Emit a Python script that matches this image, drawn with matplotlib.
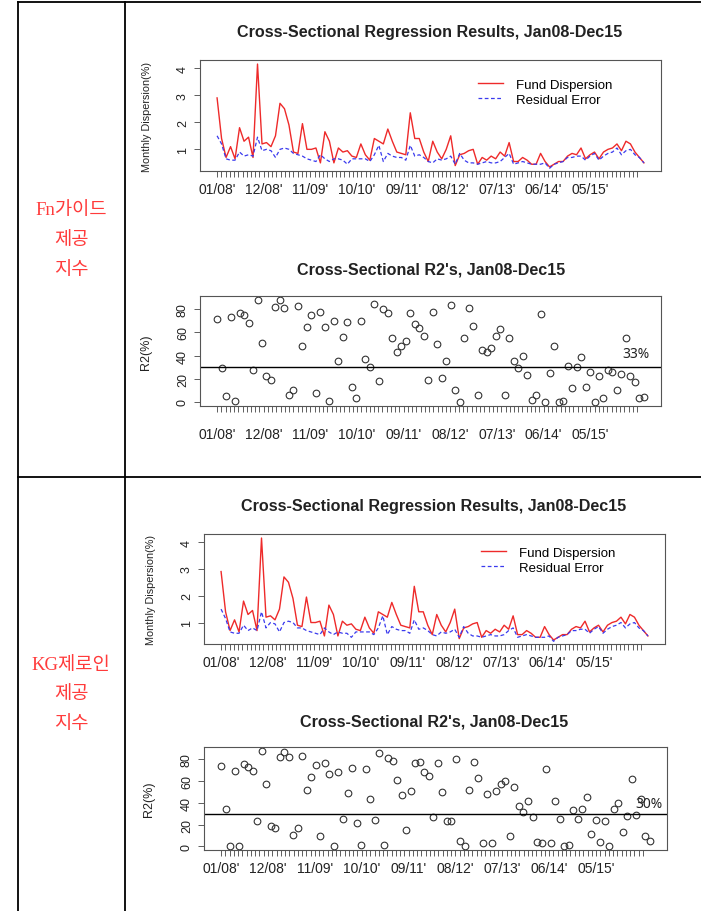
import numpy as np
import matplotlib
matplotlib.use('Agg')
import matplotlib.pyplot as plt
from matplotlib.lines import Line2D

plt.rcParams['font.family'] = ['Liberation Sans', 'DejaVu Sans']

W, H = 701, 912

########## Data ##########
# Fn guide index: fund dispersion / residual error (monthly, Jan08 - Dec15)
fn_disp = [2.9, 1.4, 0.7, 1.1, 0.65, 1.8, 1.3, 1.45, 0.7, 4.15,
           1.2, 1.25, 1.1, 1.5, 2.7, 2.5, 1.9, 0.9, 0.85, 1.95,
           1.0, 1.0, 1.05, 0.5, 1.65, 1.3, 0.5, 1.05, 0.9, 0.95,
           0.75, 0.7, 1.2, 0.8, 0.6, 1.4, 1.3, 1.2, 1.75, 1.3,
           0.9, 0.85, 0.8, 2.35, 1.4, 1.4, 0.9, 0.55, 1.3, 0.9,
           0.65, 1.0, 1.5, 0.4, 0.8, 0.85, 0.95, 1.0, 0.45, 0.7,
           0.6, 0.75, 0.65, 0.9, 0.75, 1.25, 0.55, 0.55, 0.7, 0.6,
           0.45, 0.45, 0.85, 0.55, 0.35, 0.45, 0.55, 0.55, 0.75, 0.85,
           0.8, 1.05, 0.65, 0.8, 0.9, 0.65, 0.9, 1.0, 1.05, 1.2,
           0.95, 1.3, 1.2, 0.9, 0.7, 0.5]
fn_resid = [1.5, 1.2, 0.65, 0.6, 0.6, 0.9, 0.75, 0.8, 0.75, 1.45,
            0.95, 1.0, 0.95, 0.7, 1.0, 1.05, 1.0, 0.85, 0.8, 0.75,
            0.65, 0.6, 0.55, 0.8, 0.65, 0.55, 0.65, 0.65, 0.6, 0.45,
            0.65, 0.65, 0.65, 0.65, 0.55, 0.8, 1.15, 0.55, 0.85, 0.75,
            0.7, 0.7, 0.6, 1.15, 0.75, 0.8, 0.7, 0.55, 0.5, 0.65,
            0.6, 0.65, 0.75, 0.45, 0.85, 0.6, 0.5, 0.5, 0.45, 0.5,
            0.55, 0.5, 0.5, 0.55, 0.7, 0.85, 0.45, 0.5, 0.55, 0.5,
            0.45, 0.45, 0.45, 0.5, 0.3, 0.45, 0.5, 0.55, 0.7, 0.7,
            0.75, 0.75, 0.6, 0.75, 0.85, 0.6, 0.75, 0.85, 0.9, 1.05,
            0.8, 0.95, 1.0, 0.8, 0.7, 0.5]
fn_r2 = [72, 29, 5, 73, 1, 77, 75, 68, 28, 88,
         51, 22, 19, 82, 88, 81, 6, 10, 83, 48,
         65, 75, 7.5, 78, 65, 1, 70, 35, 56, 69,
         13, 3, 70, 37, 30, 85, 18, 80, 77, 55,
         43, 48, 53, 77, 67, 64, 57, 19, 78, 50,
         21, 35, 84, 10, 0, 55, 81, 66, 6, 45,
         43, 47, 57, 63, 6, 55, 35, 29, 40, 23,
         1.5, 6, 76, 0, 25, 48, 0, 1, 31, 12,
         30, 39, 13, 26, 0, 22, 3, 28, 26, 10,
         24, 55, 22, 17, 3, 4]

# KG zeroin index
kg_disp = [2.9, 1.4, 0.7, 1.1, 0.65, 1.8, 1.3, 1.45, 0.7, 4.15,
           1.2, 1.25, 1.1, 1.5, 2.7, 2.5, 1.9, 0.9, 0.85, 1.95,
           1.0, 1.0, 1.05, 0.5, 1.65, 1.3, 0.5, 1.05, 0.9, 0.95,
           0.75, 0.7, 1.2, 0.8, 0.6, 1.4, 1.3, 1.2, 1.75, 1.3,
           0.9, 0.85, 0.8, 2.35, 1.4, 1.4, 0.9, 0.55, 1.3, 0.9,
           0.65, 1.0, 1.5, 0.4, 0.8, 0.85, 0.95, 1.0, 0.45, 0.7,
           0.6, 0.75, 0.65, 0.9, 0.75, 1.25, 0.55, 0.55, 0.7, 0.6,
           0.45, 0.45, 0.85, 0.55, 0.35, 0.45, 0.55, 0.55, 0.75, 0.85,
           0.8, 1.05, 0.65, 0.8, 0.9, 0.65, 0.9, 1.0, 1.05, 1.2,
           0.95, 1.3, 1.2, 0.9, 0.7, 0.5]
kg_resid = [1.5, 1.15, 0.65, 0.6, 0.6, 0.9, 0.7, 0.8, 0.7, 1.4,
            0.8, 1.0, 0.95, 0.65, 1.0, 1.05, 1.0, 0.8, 0.8, 0.7,
            0.65, 0.6, 0.55, 0.8, 0.65, 0.55, 0.65, 0.6, 0.6, 0.45,
            0.65, 0.65, 0.65, 0.65, 0.55, 0.8, 1.25, 0.55, 0.85, 0.75,
            0.7, 0.7, 0.6, 1.1, 0.75, 0.8, 0.7, 0.55, 0.5, 0.65,
            0.6, 0.65, 0.75, 0.45, 0.85, 0.6, 0.5, 0.5, 0.45, 0.5,
            0.55, 0.5, 0.5, 0.55, 0.7, 0.8, 0.45, 0.5, 0.55, 0.5,
            0.45, 0.45, 0.45, 0.5, 0.3, 0.45, 0.5, 0.55, 0.7, 0.7,
            0.75, 0.75, 0.6, 0.75, 0.85, 0.6, 0.75, 0.85, 0.9, 1.0,
            0.8, 0.95, 1.0, 0.8, 0.7, 0.5]
kg_r2 = [74, 34, 0.6, 69, 0, 76, 73, 69, 23.5, 88,
         57, 19, 17, 82, 87, 82, 10, 17, 83, 52,
         64, 75, 9, 77, 67, 0, 68, 25, 49, 72,
         21, 1.5, 71, 44, 24, 86, 1.5, 81, 79, 61,
         47, 15, 51, 77, 78, 68, 65, 27, 77, 50,
         23, 23, 80, 5, 0, 52, 78, 63, 3, 48,
         2.5, 51, 57, 60, 9, 55, 37.5, 31.5, 42, 27,
         3.5, 3, 71, 2.5, 42, 25, 0.5, 1.5, 33, 25.5,
         34, 45, 11, 24, 4, 23, 0.5, 34, 40, 13.5,
         28, 62, 29, 44, 9, 4.5]

tick_labels = ["01/08'", "12/08'", "11/09'", "10/10'", "09/11'",
               "08/12'", "07/13'", "06/14'", "05/15'"]
fn_cut, kg_cut = 30, 30
fn_cut_text, kg_cut_text = '33%', '30%'

n = len(fn_disp)
x = np.arange(1, n + 1)
# the axis ticks in the original run a little tighter than the points
n_ticks = 100
tick_step = 0.944
tick_pos = 1 + np.arange(n_ticks) * tick_step
xt_labels = [''] * n_ticks
for k, lab in enumerate(tick_labels):
    xt_labels[k * 11] = lab


def rect(l, t, r, b):
    return [l / W, 1 - b / H, (r - l) / W, (b - t) / H]


def style(ax, xpad):
    for sp in ax.spines.values():
        sp.set_color('#555555')
        sp.set_linewidth(0.8)
    ax.set_xlim(-2.8, n + 3.8)
    ax.set_xticks(tick_pos)
    ax.set_xticklabels(xt_labels)
    ax.tick_params(axis='x', direction='out', length=4, width=0.6, colors='#444444',
                   labelsize=10, pad=xpad, labelcolor='#222222')
    ax.tick_params(axis='y', direction='out', length=4, width=0.6, colors='#444444',
                   labelsize=9, pad=4, labelrotation=90, labelcolor='#222222')
    for t in ax.get_yticklabels():
        t.set_va('center')


fig = plt.figure(figsize=(W / 100, H / 100), dpi=100)

####### Table frame #######
lk = dict(color='black', lw=1.3)
fig.add_artist(Line2D([18 / W, 1], [1 - 3 / H, 1 - 3 / H], **lk))
fig.add_artist(Line2D([18 / W, 1], [1 - 478 / H, 1 - 478 / H], **lk))
fig.add_artist(Line2D([18 / W, 18 / W], [0, 1 - 3 / H], **lk))
fig.add_artist(Line2D([125 / W, 125 / W], [0, 1 - 3 / H], **lk))

kr = dict(color='#ff3b3b', fontsize=13.5, ha='center', va='center',
          family=['Liberation Serif', 'Noto Sans CJK KR'])
for txt, yy in [('Fn가이드', 211), ('제공', 241), ('지수', 270),
                ('KG제로인', 666), ('제공', 695), ('지수', 725)]:
    fig.text(71 / W, 1 - yy / H, txt, **kr)

####### Dispersion charts #######
def line_chart(box, disp, resid, leg_xy, title_xy):
    ax = fig.add_axes(rect(*box))
    ax.plot(x, disp, color='#ee2a2a', lw=1.0, label='Fund Dispersion')
    ax.plot(x, resid, color='#3a3aee', lw=0.9, dashes=(3, 2), label='Residual Error')
    ax.set_ylim(0.2, 4.3)
    ax.set_yticks([1, 2, 3, 4])
    ax.set_ylabel('Monthly Dispersion(%)', fontsize=7.8, color='#222222')
    ax.yaxis.set_label_coords(-0.105, 0.5)
    ax.legend(loc='upper left', bbox_to_anchor=leg_xy, frameon=False, fontsize=9.5,
              handlelength=1.9, handletextpad=1.0, labelspacing=0.22,
              borderaxespad=0, borderpad=0)
    style(ax, 4)
    fig.text(title_xy[0] / W, 1 - title_xy[1] / H,
             'Cross-Sectional Regression Results, Jan08-Dec15',
             fontsize=11.6, fontweight='bold', ha='center', va='center', color='#222222')
    return ax


def r2_chart(box, r2, cut, cut_text, text_xy, title_xy, xpad):
    ax = fig.add_axes(rect(*box))
    ax.plot(x, r2, 'o', mfc='none', mec='#333333', ms=4.8, mew=0.8)
    ax.axhline(cut, color='black', lw=1.0)
    ax.text(text_xy[0], text_xy[1], cut_text, fontsize=10, ha='center', va='center',
            family=['Noto Sans', 'DejaVu Sans'], color='#222222')
    ax.set_ylim(-3.5, 91.5)
    ax.set_yticks([0, 20, 40, 60, 80])
    ax.set_ylabel('R2(%)', fontsize=9, color='#222222')
    ax.yaxis.set_label_coords(-0.105, 0.5)
    style(ax, xpad)
    fig.text(title_xy[0] / W, 1 - title_xy[1] / H,
             "Cross-Sectional R2's, Jan08-Dec15",
             fontsize=11.6, fontweight='bold', ha='center', va='center', color='#222222')
    return ax


line_chart((200, 61, 661, 172), fn_disp, fn_resid, (0.603, 0.835), (430, 33))
r2_chart((200, 297, 661, 407), fn_r2, fn_cut, fn_cut_text, (94.3, 41.5), (431, 270), 11)
line_chart((204, 535, 665, 645), kg_disp, kg_resid, (0.601, 0.885), (434, 507))
r2_chart((204, 748, 667, 851), kg_r2, kg_cut, kg_cut_text, (95.7, 39), (434, 722), 4)

plt.savefig('out.png', dpi=100)
